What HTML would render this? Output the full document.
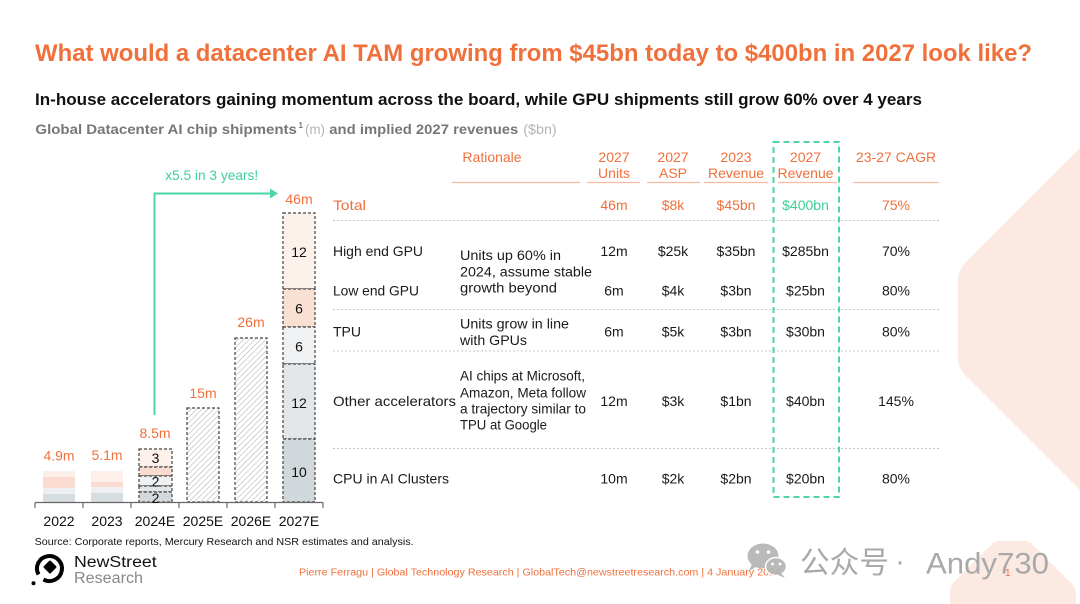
<!DOCTYPE html>
<html><head><meta charset="utf-8">
<style>
html,body{margin:0;padding:0;background:#fff;}
svg{display:block;}
text{font-family:"Liberation Sans","Noto Sans CJK SC",sans-serif;}
</style></head><body>
<svg width="1080" height="604" viewBox="0 0 1080 604" xmlns="http://www.w3.org/2000/svg">
<defs>
<pattern id="hatch" width="4" height="4" patternUnits="userSpaceOnUse" patternTransform="rotate(45)">
<rect width="4" height="4" fill="#fff"/>
<line x1="0" y1="0" x2="0" y2="4" stroke="#b0b0b0" stroke-width="1.1"/>
</pattern>
</defs>
<rect width="1080" height="604" fill="#fff"/>

<!-- background hexagons -->
<path d="M1080,148 L966,262 Q958,270 958,281 L958,357 Q958,368 966,376 L1080,490 Z" fill="#fbe9e2"/>
<path d="M950,604 L950,592 Q950,586 954,582 L992,544 Q995,541 1000,541 L1024,541 Q1029,541 1032,544 L1072,584 Q1076,588 1076,594 L1076,604 Z" fill="#fbe9e2"/>

<!-- titles -->
<text x="35" y="61" font-size="24" font-weight="bold" fill="#f0703c" textLength="997" lengthAdjust="spacingAndGlyphs">What would a datacenter AI TAM growing from $45bn today to $400bn in 2027 look like?</text>
<text x="35" y="105" font-size="16.5" font-weight="bold" fill="#111" textLength="887" lengthAdjust="spacingAndGlyphs">In-house accelerators gaining momentum across the board, while GPU shipments still grow 60% over 4 years</text>
<g font-size="14">
<text x="35.4" y="134" fill="#777" font-weight="bold" textLength="261.5" lengthAdjust="spacingAndGlyphs">Global Datacenter AI chip shipments</text>
<text x="298.5" y="128" fill="#777" font-size="8" font-weight="bold">1</text>
<text x="305" y="134" fill="#b5b5b5" textLength="20" lengthAdjust="spacingAndGlyphs">(m)</text>
<text x="329.3" y="134" fill="#777" font-weight="bold" textLength="189" lengthAdjust="spacingAndGlyphs">and implied 2027 revenues</text>
<text x="523.3" y="134" fill="#b5b5b5" textLength="33.4" lengthAdjust="spacingAndGlyphs">($bn)</text>
</g>

<!-- chart -->
<g>
<rect x="43" y="471" width="32" height="6" fill="#fdefe9"/>
<rect x="43" y="477" width="32" height="11" fill="#fadbd0"/>
<rect x="43" y="488" width="32" height="6" fill="#eef0f2"/>
<rect x="43" y="494" width="32" height="8" fill="#d6dde1"/>
<rect x="91" y="471" width="32" height="11" fill="#fdefe9"/>
<rect x="91" y="482" width="32" height="5" fill="#fadbd0"/>
<rect x="91" y="487" width="32" height="6" fill="#eef0f2"/>
<rect x="91" y="493" width="32" height="9" fill="#d6dde1"/>
</g>
<g stroke="#444" stroke-width="1.2" stroke-dasharray="3 2">
<rect x="139" y="449" width="33" height="18" fill="#fdf1ec"/>
<rect x="139" y="467" width="33" height="9" fill="#fadbd0"/>
<rect x="139" y="476" width="33" height="10" fill="#eff1f3"/>
<rect x="139" y="486" width="33" height="6" fill="#e2e6e9"/>
<rect x="139" y="492" width="33" height="10" fill="#d2d9de"/>
<rect x="187" y="408" width="32" height="94" fill="url(#hatch)"/>
<rect x="235" y="338" width="32" height="164" fill="url(#hatch)"/>
<rect x="283" y="213" width="32" height="76" fill="#fdf1ec"/>
<rect x="283" y="289" width="32" height="38" fill="#fadfd3"/>
<rect x="283" y="327" width="32" height="37" fill="#eff1f3"/>
<rect x="283" y="364" width="32" height="75" fill="#e2e6e9"/>
<rect x="283" y="439" width="32" height="63" fill="#d0d8dc"/>
</g>
<line x1="35" y1="502.5" x2="323" y2="502.5" stroke="#666" stroke-width="1.2"/>
<g stroke="#666" stroke-width="1.2">
<line x1="35" y1="502.5" x2="35" y2="508"/>
<line x1="83" y1="502.5" x2="83" y2="508"/>
<line x1="131" y1="502.5" x2="131" y2="508"/>
<line x1="179" y1="502.5" x2="179" y2="508"/>
<line x1="227" y1="502.5" x2="227" y2="508"/>
<line x1="275" y1="502.5" x2="275" y2="508"/>
<line x1="323" y1="502.5" x2="323" y2="508"/>
</g>
<g font-size="14" fill="#111" text-anchor="middle">
<text x="59" y="526">2022</text>
<text x="107" y="526">2023</text>
<text x="155" y="526">2024E</text>
<text x="203" y="526">2025E</text>
<text x="251" y="526">2026E</text>
<text x="299" y="526">2027E</text>
<text x="155.5" y="463">3</text>
<text x="155.5" y="486.5">2</text>
<text x="155.5" y="503">2</text>
<text x="299" y="257">12</text>
<text x="299" y="313.5">6</text>
<text x="299" y="351.5">6</text>
<text x="299" y="408">12</text>
<text x="299" y="477">10</text>
</g>
<g font-size="14" fill="#f0703c" text-anchor="middle">
<text x="59" y="460.5">4.9m</text>
<text x="107" y="460">5.1m</text>
<text x="155" y="438">8.5m</text>
<text x="203" y="398">15m</text>
<text x="251" y="327">26m</text>
<text x="299" y="204">46m</text>
</g>
<!-- green arrow -->
<path d="M154.5,415 L154.5,193.5 L271,193.5" fill="none" stroke="#4dd6a3" stroke-width="2"/>
<path d="M270,188.5 L278,193.5 L270,198.5 Z" fill="#4dd6a3"/>
<text x="211.7" y="180" font-size="14" fill="#3fcf98" text-anchor="middle" textLength="93" lengthAdjust="spacingAndGlyphs">x5.5 in 3 years!</text>

<!-- table header -->
<g font-size="14" fill="#f0703c" text-anchor="middle">
<text x="492" y="162">Rationale</text>
<text x="614" y="162">2027</text><text x="614" y="178">Units</text>
<text x="673" y="162">2027</text><text x="673" y="178">ASP</text>
<text x="736" y="162">2023</text><text x="736" y="178">Revenue</text>
<text x="805.5" y="162">2027</text><text x="805.5" y="178">Revenue</text>
<text x="896" y="162">23-27 CAGR</text>
</g>
<g stroke="#f5b9a0" stroke-width="1.2">
<line x1="452" y1="182.5" x2="580" y2="182.5"/>
<line x1="587" y1="182.5" x2="640" y2="182.5"/>
<line x1="647" y1="182.5" x2="700" y2="182.5"/>
<line x1="704" y1="182.5" x2="768" y2="182.5"/>
<line x1="778" y1="182.5" x2="837" y2="182.5"/>
<line x1="853" y1="182.5" x2="939" y2="182.5"/>
</g>
<!-- separators -->
<g stroke="#c8c8c8" stroke-width="1" stroke-dasharray="2 2">
<line x1="333" y1="220.5" x2="939" y2="220.5"/>
<line x1="333" y1="309.5" x2="939" y2="309.5"/>
<line x1="333" y1="351" x2="939" y2="351"/>
<line x1="333" y1="448.5" x2="939" y2="448.5"/>
</g>
<!-- green dashed box -->
<rect x="773.5" y="142" width="65.5" height="355" fill="none" stroke="#4dd6a3" stroke-width="2" stroke-dasharray="6 4"/>

<!-- Total row -->
<text x="333" y="210" font-size="14" fill="#f0703c" textLength="33" lengthAdjust="spacingAndGlyphs">Total</text>
<g font-size="14" text-anchor="middle" fill="#f0703c">
<text x="614" y="210">46m</text>
<text x="673" y="210">$8k</text>
<text x="736" y="210">$45bn</text>
<text x="805.5" y="210" fill="#3fcf98">$400bn</text>
<text x="896" y="210">75%</text>
</g>

<!-- row labels -->
<g font-size="14" fill="#1a1a1a">
<text x="333" y="256" textLength="90" lengthAdjust="spacingAndGlyphs">High end GPU</text>
<text x="333" y="295.7" textLength="86" lengthAdjust="spacingAndGlyphs">Low end GPU</text>
<text x="333" y="336.7">TPU</text>
<text x="333" y="406" textLength="123" lengthAdjust="spacingAndGlyphs">Other accelerators</text>
<text x="333" y="483.3" textLength="116" lengthAdjust="spacingAndGlyphs">CPU in AI Clusters</text>
</g>
<!-- rationale -->
<g font-size="14" fill="#1a1a1a">
<text x="460" y="260" textLength="101" lengthAdjust="spacingAndGlyphs">Units up 60% in</text>
<text x="460" y="276.5" textLength="132" lengthAdjust="spacingAndGlyphs">2024, assume stable</text>
<text x="460" y="292.5" textLength="97" lengthAdjust="spacingAndGlyphs">growth beyond</text>
<text x="460" y="328.3" textLength="109" lengthAdjust="spacingAndGlyphs">Units grow in line</text>
<text x="460" y="345" textLength="67" lengthAdjust="spacingAndGlyphs">with GPUs</text>
<text x="460" y="380.7" textLength="125" lengthAdjust="spacingAndGlyphs">AI chips at Microsoft,</text>
<text x="460" y="397.3" textLength="126" lengthAdjust="spacingAndGlyphs">Amazon, Meta follow</text>
<text x="460" y="413.3" textLength="126" lengthAdjust="spacingAndGlyphs">a trajectory similar to</text>
<text x="460" y="429.7" textLength="87" lengthAdjust="spacingAndGlyphs">TPU at Google</text>
</g>
<!-- values -->
<g font-size="14" fill="#1a1a1a" text-anchor="middle">
<text x="614" y="256">12m</text><text x="673" y="256">$25k</text><text x="736" y="256">$35bn</text><text x="805.5" y="256">$285bn</text><text x="896" y="256">70%</text>
<text x="614" y="295.7">6m</text><text x="673" y="295.7">$4k</text><text x="736" y="295.7">$3bn</text><text x="805.5" y="295.7">$25bn</text><text x="896" y="295.7">80%</text>
<text x="614" y="336.7">6m</text><text x="673" y="336.7">$5k</text><text x="736" y="336.7">$3bn</text><text x="805.5" y="336.7">$30bn</text><text x="896" y="336.7">80%</text>
<text x="614" y="406">12m</text><text x="673" y="406">$3k</text><text x="736" y="406">$1bn</text><text x="805.5" y="406">$40bn</text><text x="896" y="406">145%</text>
<text x="614" y="483.3">10m</text><text x="673" y="483.3">$2k</text><text x="736" y="483.3">$2bn</text><text x="805.5" y="483.3">$20bn</text><text x="896" y="483.3">80%</text>
</g>

<!-- source -->
<text x="34.6" y="545" font-size="10.5" fill="#111" textLength="379" lengthAdjust="spacingAndGlyphs">Source: Corporate reports, Mercury Research and NSR estimates and analysis.</text>

<!-- logo -->
<path d="M43.5,579.5 A12.5,12.5 0 1 0 38.5,574.5" fill="none" stroke="#000" stroke-width="4"/>
<path d="M50,561.5 L55.5,567 L50,572.5 L44.5,567 Z" fill="#000" stroke="#000" stroke-width="2" stroke-linejoin="round"/>
<circle cx="33.5" cy="583.3" r="2" fill="#000"/>
<text x="74" y="567" font-size="15.5" fill="#111" textLength="82.7" lengthAdjust="spacingAndGlyphs">NewStreet</text>
<text x="74" y="583" font-size="15.5" fill="#888" textLength="69" lengthAdjust="spacingAndGlyphs">Research</text>

<!-- footer -->
<text x="299" y="575.5" font-size="10.5" fill="#f0703c" textLength="482" lengthAdjust="spacingAndGlyphs">Pierre Ferragu | Global Technology Research | GlobalTech@newstreetresearch.com | 4 January 2024</text>
<text x="1005" y="576" font-size="10" fill="#f0703c">1</text>

<!-- watermark -->
<g opacity="0.9">
<ellipse cx="763" cy="556" rx="15.5" ry="12.5" fill="#b3b3b3"/>
<path d="M752,564 L749,571 L758,566 Z" fill="#b3b3b3"/>
<ellipse cx="776" cy="566.5" rx="10.5" ry="9" fill="#b3b3b3" stroke="#fff" stroke-width="1.5"/>
<path d="M781,573 L785,578 L778,575 Z" fill="#b3b3b3"/>
<circle cx="757.5" cy="552" r="1.8" fill="#fff"/>
<circle cx="768.5" cy="552" r="1.8" fill="#fff"/>
<circle cx="772.5" cy="564" r="1.4" fill="#fff"/>
<circle cx="780" cy="564" r="1.4" fill="#fff"/>
</g>
<g fill="#a9a9a9" font-size="30" style="font-family:'Noto Sans CJK SC','WenQuanYi Zen Hei',sans-serif">
<text x="800" y="573" textLength="89" lengthAdjust="spacingAndGlyphs">公众号</text>
<text x="900" y="571" text-anchor="middle">·</text>
<text x="926" y="573.5" textLength="123" lengthAdjust="spacingAndGlyphs">Andy730</text>
</g>
</svg>
</body></html>
